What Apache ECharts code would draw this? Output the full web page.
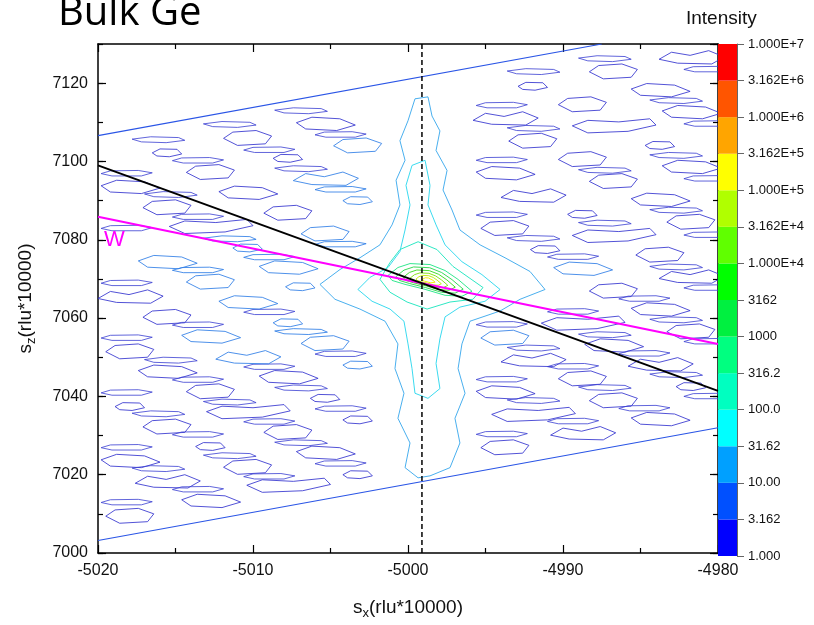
<!DOCTYPE html>
<html>
<head>
<meta charset="utf-8">
<script src="https://cdn.jsdelivr.net/npm/echarts@6/dist/echarts.min.js"></script>
<style>
  html, body { margin: 0; padding: 0; background: #ffffff; }
  #chart { width: 814px; height: 625px; }
</style>
</head>
<body>
<div id="chart"></div>
<script>
// ---- Reciprocal space map of bulk Ge around the (-5000, 7069) reflection ----
// Axis ranges (rlu*10000)
const sxRange = [-5020, -4980];
const szRange = [7000, 7130];

// Colour scale of the contour levels (bottom -> top) and their tick labels
const levelLabels = ['1.000', '3.162', '10.00', '31.62', '100.0', '316.2', '1000', '3162',
  '1.000E+4', '3.162E+4', '1.000E+5', '3.162E+5', '1.000E+6', '3.162E+6', '1.000E+7'];
const levelColors = ['#0000ff', '#0050ff', '#00a0ff', '#00ffff', '#00ffc0', '#00ff80', '#00f040',
  '#00ff00', '#60ff00', '#b0ff00', '#ffff00', '#ffa500', '#ff5500', '#ff0000'];

// Edges of the measured area (parallelogram)
const scanEdges = [
  [-5020, 7106.6, -4987.5, 7130.0],
  [-5020, 7003.2, -4980.0, 7032.0]
];

// Reference lines
const blackLine = [[-5020, 7099.0], [-4980, 7041.4]];
const wLine = [[-5020, 7085.9], [-4980, 7053.4]];
const specularSx = -4999.1;

// Background noise contours, level 1 (flat x,z lists, closed rings)
const noiseContours = [
  [-5019.5,7009.4, -5018.9,7011.0, -5017.4,7011.4, -5016.4,7010.0, -5016.8,7008.0, -5018.6,7007.6],
  [-5014.6,7013.6, -5013.6,7015.0, -5011.8,7014.6, -5010.8,7013.0, -5012.0,7011.6, -5014.0,7012.0],
  [-5010.4,7017.3, -5009.4,7018.7, -5007.4,7018.3, -5005.4,7019.1, -5005.0,7017.5, -5006.8,7015.9, -5009.4,7015.5],
  [-5004.2,7020.0, -5003.7,7021.0, -5002.6,7020.9, -5002.3,7019.7, -5003.1,7019.0, -5003.9,7019.2],
  [-4995.3,7026.9, -4994.7,7028.5, -4993.2,7028.9, -4992.2,7027.5, -4992.6,7025.5, -4994.4,7025.1],
  [-4990.8,7030.1, -4990.0,7031.9, -4988.8,7031.1, -4987.6,7032.3, -4986.6,7030.7, -4987.4,7028.9, -4989.6,7029.1],
  [-4985.6,7034.5, -4984.6,7035.9, -4982.8,7035.5, -4981.8,7033.9, -4983.0,7032.5, -4985.0,7032.9],
  [-5017.6,7017.8, -5016.8,7019.6, -5015.6,7018.8, -5014.4,7020.0, -5013.4,7018.4, -5014.2,7016.6, -5016.4,7016.8],
  [-5011.9,7021.9, -5011.3,7023.5, -5009.8,7023.9, -5008.8,7022.5, -5009.2,7020.5, -5011.0,7020.1],
  [-5007.2,7025.9, -5006.2,7027.3, -5004.4,7026.9, -5003.4,7025.3, -5004.6,7023.9, -5006.6,7024.3],
  [-4994.6,7035.4, -4993.6,7036.8, -4991.6,7036.4, -4989.6,7037.2, -4989.2,7035.6, -4991.0,7034.0, -4993.6,7033.6],
  [-4988.3,7038.9, -4987.7,7040.5, -4986.2,7040.9, -4985.2,7039.5, -4985.6,7037.5, -4987.4,7037.1],
  [-4982.7,7042.5, -4982.2,7043.5, -4981.1,7043.4, -4980.8,7042.2, -4981.6,7041.5, -4982.4,7041.7],
  [-5019.8,7023.8, -5018.8,7025.2, -5017.0,7024.8, -5016.0,7023.2, -5017.2,7021.8, -5019.2,7022.2],
  [-5013.7,7027.2, -5013.2,7028.2, -5012.1,7028.1, -5011.8,7026.9, -5012.6,7026.2, -5013.4,7026.4],
  [-5009.3,7030.8, -5008.7,7032.4, -5007.2,7032.8, -5006.2,7031.4, -5006.6,7029.4, -5008.4,7029.0],
  [-5004.2,7034.0, -5003.7,7035.0, -5002.6,7034.9, -5002.3,7033.7, -5003.1,7033.0, -5003.9,7033.2],
  [-4995.6,7041.3, -4994.6,7042.7, -4992.8,7042.3, -4991.8,7040.7, -4993.0,7039.3, -4995.0,7039.7],
  [-4990.3,7044.5, -4989.7,7046.1, -4988.2,7046.5, -4987.2,7045.1, -4987.6,7043.1, -4989.4,7042.7],
  [-4985.8,7047.7, -4985.0,7049.5, -4983.8,7048.7, -4982.6,7049.9, -4981.6,7048.3, -4982.4,7046.5, -4984.6,7046.7],
  [-5017.1,7032.2, -5016.5,7033.8, -5015.0,7034.2, -5014.0,7032.8, -5014.4,7030.8, -5016.2,7030.4],
  [-5013.0,7036.1, -5012.0,7037.5, -5010.0,7037.1, -5008.0,7037.9, -5007.6,7036.3, -5009.4,7034.7, -5012.0,7034.3],
  [-5006.3,7039.5, -5005.8,7040.5, -5004.7,7040.4, -5004.4,7039.2, -5005.2,7038.5, -5006.0,7038.7],
  [-4994.0,7048.8, -4993.2,7050.6, -4992.0,7049.8, -4990.8,7051.0, -4989.8,7049.4, -4990.6,7047.6, -4992.8,7047.8],
  [-4988.6,7053.3, -4987.6,7054.7, -4985.8,7054.3, -4984.8,7052.7, -4986.0,7051.3, -4988.0,7051.7],
  [-4983.3,7056.5, -4982.7,7058.1, -4981.2,7058.5, -4980.2,7057.1, -4980.6,7055.1, -4982.4,7054.7],
  [-5018.9,7037.4, -5018.4,7038.4, -5017.3,7038.3, -5017.0,7037.1, -5017.8,7036.4, -5018.6,7036.6],
  [-5014.3,7041.2, -5013.7,7042.8, -5012.2,7043.2, -5011.2,7041.8, -5011.6,7039.8, -5013.4,7039.4],
  [-5009.6,7045.2, -5008.6,7046.6, -5006.8,7046.2, -5005.8,7044.6, -5007.0,7043.2, -5009.0,7043.6],
  [-4991.4,7058.7, -4990.4,7060.1, -4988.4,7059.7, -4986.4,7060.5, -4986.0,7058.9, -4987.8,7057.3, -4990.4,7056.9],
  [-4985.6,7062.5, -4984.6,7063.9, -4982.8,7063.5, -4981.8,7061.9, -4983.0,7060.5, -4985.0,7060.9],
  [-5017.4,7046.6, -5016.4,7048.0, -5014.6,7047.6, -5013.6,7046.0, -5014.8,7044.6, -5016.8,7045.0],
  [-4988.3,7066.9, -4987.7,7068.5, -4986.2,7068.9, -4985.2,7067.5, -4985.6,7065.5, -4987.4,7065.1],
  [-4983.8,7070.1, -4983.0,7071.9, -4981.8,7071.1, -4980.6,7072.3, -4979.6,7070.7, -4980.4,7068.9, -4982.6,7069.1],
  [-5019.5,7051.4, -5018.9,7053.0, -5017.4,7053.4, -5016.4,7052.0, -5016.8,7050.0, -5018.6,7049.6],
  [-4985.3,7076.1, -4984.7,7077.7, -4983.2,7078.1, -4982.2,7076.7, -4982.6,7074.7, -4984.4,7074.3],
  [-5017.1,7060.2, -5016.5,7061.8, -5015.0,7062.2, -5014.0,7060.8, -5014.4,7058.8, -5016.2,7058.4],
  [-4992.1,7077.5, -4991.6,7078.5, -4990.5,7078.4, -4990.2,7077.2, -4991.0,7076.5, -4991.8,7076.7],
  [-4989.4,7081.1, -4988.4,7082.5, -4986.4,7082.1, -4984.4,7082.9, -4984.0,7081.3, -4985.8,7079.7, -4988.4,7079.3],
  [-4983.3,7084.5, -4982.7,7086.1, -4981.2,7086.5, -4980.2,7085.1, -4980.6,7083.1, -4982.4,7082.7],
  [-5020.0,7065.0, -5019.2,7066.8, -5018.0,7066.0, -5016.8,7067.2, -5015.8,7065.6, -5016.6,7063.8, -5018.8,7064.0],
  [-4995.3,7082.9, -4994.7,7084.5, -4993.2,7084.9, -4992.2,7083.5, -4992.6,7081.5, -4994.4,7081.1],
  [-4989.7,7086.5, -4989.2,7087.5, -4988.1,7087.4, -4987.8,7086.2, -4988.6,7085.5, -4989.4,7085.7],
  [-4985.6,7090.5, -4984.6,7091.9, -4982.8,7091.5, -4981.8,7089.9, -4983.0,7088.5, -4985.0,7088.9],
  [-4994.0,7090.8, -4993.2,7092.6, -4992.0,7091.8, -4990.8,7093.0, -4989.8,7091.4, -4990.6,7089.6, -4992.8,7089.8],
  [-4988.3,7094.9, -4987.7,7096.5, -4986.2,7096.9, -4985.2,7095.5, -4985.6,7093.5, -4987.4,7093.1],
  [-4983.6,7098.9, -4982.6,7100.3, -4980.8,7099.9, -4979.8,7098.3, -4981.0,7096.9, -4983.0,7097.3],
  [-5015.4,7083.4, -5014.4,7084.8, -5012.4,7084.4, -5010.4,7085.2, -5010.0,7083.6, -5011.8,7082.0, -5014.4,7081.6],
  [-5009.3,7086.8, -5008.7,7088.4, -5007.2,7088.8, -5006.2,7087.4, -5006.6,7085.4, -5008.4,7085.0],
  [-4995.6,7097.3, -4994.6,7098.7, -4992.8,7098.3, -4991.8,7096.7, -4993.0,7095.3, -4995.0,7095.7],
  [-4990.3,7100.5, -4989.7,7102.1, -4988.2,7102.5, -4987.2,7101.1, -4987.6,7099.1, -4989.4,7098.7],
  [-4984.7,7104.1, -4984.2,7105.1, -4983.1,7105.0, -4982.8,7103.8, -4983.6,7103.1, -4984.4,7103.3],
  [-5017.1,7088.2, -5016.5,7089.8, -5015.0,7090.2, -5014.0,7088.8, -5014.4,7086.8, -5016.2,7086.4],
  [-5012.2,7092.3, -5011.2,7093.7, -5009.4,7093.3, -5008.4,7091.7, -5009.6,7090.3, -5011.6,7090.7],
  [-4993.5,7105.2, -4992.9,7106.8, -4991.4,7107.2, -4990.4,7105.8, -4990.8,7103.8, -4992.6,7103.4],
  [-4989.4,7109.1, -4988.4,7110.5, -4986.4,7110.1, -4984.4,7110.9, -4984.0,7109.3, -4985.8,7107.7, -4988.4,7107.3],
  [-4983.6,7112.9, -4982.6,7114.3, -4980.8,7113.9, -4979.8,7112.3, -4981.0,7110.9, -4983.0,7111.3],
  [-5019.8,7093.8, -5018.8,7095.2, -5017.0,7094.8, -5016.0,7093.2, -5017.2,7091.8, -5019.2,7092.2],
  [-5014.3,7097.2, -5013.7,7098.8, -5012.2,7099.2, -5011.2,7097.8, -5011.6,7095.8, -5013.4,7095.4],
  [-5008.7,7100.8, -5008.2,7101.8, -5007.1,7101.7, -5006.8,7100.5, -5007.6,7099.8, -5008.4,7100.0],
  [-4995.8,7110.5, -4995.0,7112.3, -4993.8,7111.5, -4992.6,7112.7, -4991.6,7111.1, -4992.4,7109.3, -4994.6,7109.5],
  [-4990.3,7114.5, -4989.7,7116.1, -4988.2,7116.5, -4987.2,7115.1, -4987.6,7113.1, -4989.4,7112.7],
  [-4985.6,7118.5, -4984.6,7119.9, -4982.8,7119.5, -4981.8,7117.9, -4983.0,7116.5, -4985.0,7116.9],
  [-5016.5,7102.2, -5016.0,7103.2, -5014.9,7103.1, -5014.6,7101.9, -5015.4,7101.2, -5016.2,7101.4],
  [-5011.9,7105.9, -5011.3,7107.5, -5009.8,7107.9, -5008.8,7106.5, -5009.2,7104.5, -5011.0,7104.1],
  [-5007.2,7109.9, -5006.2,7111.3, -5004.4,7110.9, -5003.4,7109.3, -5004.6,7107.9, -5006.6,7108.3],
  [-4992.9,7119.2, -4992.4,7120.2, -4991.3,7120.1, -4991.0,7118.9, -4991.8,7118.2, -4992.6,7118.4],
  [-4988.3,7122.9, -4987.7,7124.5, -4986.2,7124.9, -4985.2,7123.5, -4985.6,7121.5, -4987.4,7121.1],
  [-4983.8,7126.1, -4983.0,7127.9, -4981.8,7127.1, -4980.6,7128.3, -4979.6,7126.7, -4980.4,7124.9, -4982.6,7125.1]
];

// Thin level-1 islands lying between the rows above
const thinContours = [
  [-5019.8,7012.9, -5019.2,7013.6, -5017.4,7013.7, -5016.5,7013.1, -5017.2,7012.3, -5019.1,7012.3],
  [-5015.2,7016.2, -5014.6,7016.9, -5012.8,7017.0, -5011.9,7016.4, -5012.6,7015.6, -5014.5,7015.6],
  [-5010.6,7019.5, -5010.0,7020.2, -5008.2,7020.3, -5007.3,7019.7, -5008.0,7018.9, -5009.9,7018.9],
  [-5006.0,7022.8, -5005.4,7023.5, -5003.6,7023.6, -5002.7,7023.0, -5003.4,7022.2, -5005.3,7022.2],
  [-4995.6,7030.3, -4995.0,7031.0, -4993.2,7031.1, -4992.3,7030.5, -4993.0,7029.7, -4994.9,7029.7],
  [-4991.0,7033.6, -4990.4,7034.3, -4988.6,7034.4, -4987.7,7033.8, -4988.4,7033.0, -4990.3,7033.0],
  [-4986.4,7036.9, -4985.8,7037.6, -4984.0,7037.7, -4983.1,7037.1, -4983.8,7036.3, -4985.7,7036.3],
  [-4982.2,7040.0, -4981.6,7040.7, -4979.8,7040.8, -4978.9,7040.2, -4979.6,7039.4, -4981.5,7039.4],
  [-5017.8,7021.7, -5016.6,7022.3, -5014.8,7022.1, -5014.4,7021.4, -5015.6,7020.8, -5017.2,7021.0],
  [-5013.2,7025.0, -5012.0,7025.6, -5010.2,7025.4, -5009.8,7024.7, -5011.0,7024.1, -5012.6,7024.3],
  [-5008.6,7028.3, -5007.4,7028.9, -5005.6,7028.7, -5005.2,7028.0, -5006.4,7027.4, -5008.0,7027.6],
  [-4993.6,7039.1, -4992.4,7039.7, -4990.6,7039.5, -4990.2,7038.8, -4991.4,7038.2, -4993.0,7038.4],
  [-4989.0,7042.4, -4987.8,7043.0, -4986.0,7042.8, -4985.6,7042.1, -4986.8,7041.5, -4988.4,7041.7],
  [-4984.4,7045.7, -4983.2,7046.3, -4981.4,7046.1, -4981.0,7045.4, -4982.2,7044.8, -4983.8,7045.0],
  [-5019.8,7026.9, -5019.2,7027.6, -5017.4,7027.7, -5016.5,7027.1, -5017.2,7026.3, -5019.1,7026.3],
  [-5015.2,7030.2, -5014.6,7030.9, -5012.8,7031.0, -5011.9,7030.4, -5012.6,7029.6, -5014.5,7029.6],
  [-5010.6,7033.5, -5010.0,7034.2, -5008.2,7034.3, -5007.3,7033.7, -5008.0,7032.9, -5009.9,7032.9],
  [-5006.0,7036.8, -5005.4,7037.5, -5003.6,7037.6, -5002.7,7037.0, -5003.4,7036.2, -5005.3,7036.2],
  [-4995.6,7044.3, -4995.0,7045.0, -4993.2,7045.1, -4992.3,7044.5, -4993.0,7043.7, -4994.9,7043.7],
  [-4991.0,7047.6, -4990.4,7048.3, -4988.6,7048.4, -4987.7,7047.8, -4988.4,7047.0, -4990.3,7047.0],
  [-4986.4,7050.9, -4985.8,7051.6, -4984.0,7051.7, -4983.1,7051.1, -4983.8,7050.3, -4985.7,7050.3],
  [-4982.2,7054.0, -4981.6,7054.7, -4979.8,7054.8, -4978.9,7054.2, -4979.6,7053.4, -4981.5,7053.4],
  [-5017.8,7035.7, -5016.6,7036.3, -5014.8,7036.1, -5014.4,7035.4, -5015.6,7034.8, -5017.2,7035.0],
  [-5013.2,7038.7, -5012.0,7039.3, -5010.2,7039.1, -5009.8,7038.4, -5011.0,7037.8, -5012.6,7038.0],
  [-5008.6,7042.3, -5007.4,7042.9, -5005.6,7042.7, -5005.2,7042.0, -5006.4,7041.4, -5008.0,7041.6],
  [-4993.6,7052.5, -4992.4,7053.1, -4990.6,7052.9, -4990.2,7052.2, -4991.4,7051.6, -4993.0,7051.8],
  [-4989.0,7055.9, -4987.8,7056.5, -4986.0,7056.3, -4985.6,7055.6, -4986.8,7055.0, -4988.4,7055.2],
  [-4984.4,7059.7, -4983.2,7060.3, -4981.4,7060.1, -4981.0,7059.4, -4982.2,7058.8, -4983.8,7059.0],
  [-5019.8,7040.9, -5019.2,7041.6, -5017.4,7041.7, -5016.5,7041.1, -5017.2,7040.3, -5019.1,7040.3],
  [-5015.2,7044.2, -5014.6,7044.9, -5012.8,7045.0, -5011.9,7044.4, -5012.6,7043.6, -5014.5,7043.6],
  [-5010.6,7047.5, -5010.0,7048.2, -5008.2,7048.3, -5007.3,7047.7, -5008.0,7046.9, -5009.9,7046.9],
  [-5006.0,7050.8, -5005.4,7051.5, -5003.6,7051.6, -5002.7,7051.0, -5003.4,7050.2, -5005.3,7050.2],
  [-4995.6,7058.3, -4995.0,7059.0, -4993.2,7059.1, -4992.3,7058.5, -4993.0,7057.7, -4994.9,7057.7],
  [-4991.0,7061.6, -4990.4,7062.3, -4988.6,7062.4, -4987.7,7061.8, -4988.4,7061.0, -4990.3,7061.0],
  [-4986.4,7064.9, -4985.8,7065.6, -4984.0,7065.7, -4983.1,7065.1, -4983.8,7064.3, -4985.7,7064.3],
  [-4982.2,7067.7, -4981.6,7068.4, -4979.8,7068.5, -4978.9,7067.9, -4979.6,7067.1, -4981.5,7067.1],
  [-5017.0,7049.4, -5015.8,7050.0, -5014.0,7049.8, -5013.6,7049.1, -5014.8,7048.5, -5016.4,7048.7],
  [-4984.4,7073.2, -4983.2,7073.8, -4981.4,7073.6, -4981.0,7072.9, -4982.2,7072.3, -4983.8,7072.5],
  [-5019.8,7054.9, -5019.2,7055.6, -5017.4,7055.7, -5016.5,7055.1, -5017.2,7054.3, -5019.1,7054.3],
  [-5015.2,7058.2, -5014.6,7058.9, -5012.8,7059.0, -5011.9,7058.4, -5012.6,7057.6, -5014.5,7057.6],
  [-5010.6,7061.5, -5010.0,7062.2, -5008.2,7062.3, -5007.3,7061.7, -5008.0,7060.9, -5009.9,7060.9],
  [-4991.0,7075.6, -4990.4,7076.3, -4988.6,7076.4, -4987.7,7075.8, -4988.4,7075.0, -4990.3,7075.0],
  [-4982.2,7081.2, -4981.6,7081.9, -4979.8,7082.0, -4978.9,7081.4, -4979.6,7080.6, -4981.5,7080.6],
  [-4993.6,7080.5, -4992.4,7081.1, -4990.6,7080.9, -4990.2,7080.2, -4991.4,7079.6, -4993.0,7079.8],
  [-4989.0,7084.4, -4987.8,7085.0, -4986.0,7084.8, -4985.6,7084.1, -4986.8,7083.5, -4988.4,7083.7],
  [-4984.4,7087.7, -4983.2,7088.3, -4981.4,7088.1, -4981.0,7087.4, -4982.2,7086.8, -4983.8,7087.0],
  [-5019.8,7068.9, -5019.2,7069.6, -5017.4,7069.7, -5016.5,7069.1, -5017.2,7068.3, -5019.1,7068.3],
  [-4995.6,7086.3, -4995.0,7087.0, -4993.2,7087.1, -4992.3,7086.5, -4993.0,7085.7, -4994.9,7085.7],
  [-4982.2,7095.6, -4981.6,7096.3, -4979.8,7096.4, -4978.9,7095.8, -4979.6,7095.0, -4981.5,7095.0],
  [-4989.0,7097.9, -4987.8,7098.5, -4986.0,7098.3, -4985.6,7097.6, -4986.8,7097.0, -4988.4,7097.2],
  [-4984.4,7101.7, -4983.2,7102.3, -4981.4,7102.1, -4981.0,7101.4, -4982.2,7100.8, -4983.8,7101.0],
  [-5019.8,7082.9, -5019.2,7083.6, -5017.4,7083.7, -5016.5,7083.1, -5017.2,7082.3, -5019.1,7082.3],
  [-5015.2,7085.8, -5014.6,7086.5, -5012.8,7086.6, -5011.9,7086.0, -5012.6,7085.2, -5014.5,7085.2],
  [-4995.6,7100.3, -4995.0,7101.0, -4993.2,7101.1, -4992.3,7100.5, -4993.0,7099.7, -4994.9,7099.7],
  [-4982.2,7109.6, -4981.6,7110.3, -4979.8,7110.4, -4978.9,7109.8, -4979.6,7109.0, -4981.5,7109.0],
  [-5017.0,7091.7, -5015.8,7092.3, -5014.0,7092.1, -5013.6,7091.4, -5014.8,7090.8, -5016.4,7091.0],
  [-5008.6,7098.3, -5007.4,7098.9, -5005.6,7098.7, -5005.2,7098.0, -5006.4,7097.4, -5008.0,7097.6],
  [-4993.6,7108.6, -4992.4,7109.2, -4990.6,7109.0, -4990.2,7108.3, -4991.4,7107.7, -4993.0,7107.9],
  [-4984.4,7115.7, -4983.2,7116.3, -4981.4,7116.1, -4981.0,7115.4, -4982.2,7114.8, -4983.8,7115.0],
  [-5019.8,7096.9, -5019.2,7097.6, -5017.4,7097.7, -5016.5,7097.1, -5017.2,7096.3, -5019.1,7096.3],
  [-5015.2,7100.2, -5014.6,7100.9, -5012.8,7101.0, -5011.9,7100.4, -5012.6,7099.6, -5014.5,7099.6],
  [-5010.6,7102.9, -5010.0,7103.6, -5008.2,7103.7, -5007.3,7103.1, -5008.0,7102.3, -5009.9,7102.3],
  [-5006.0,7106.8, -5005.4,7107.5, -5003.6,7107.6, -5002.7,7107.0, -5003.4,7106.2, -5005.3,7106.2],
  [-4995.6,7114.3, -4995.0,7115.0, -4993.2,7115.1, -4992.3,7114.5, -4993.0,7113.7, -4994.9,7113.7],
  [-4982.2,7123.5, -4981.6,7124.2, -4979.8,7124.3, -4978.9,7123.7, -4979.6,7122.9, -4981.5,7122.9],
  [-5017.8,7105.7, -5016.6,7106.3, -5014.8,7106.1, -5014.4,7105.4, -5015.6,7104.8, -5017.2,7105.0],
  [-5013.2,7109.6, -5012.0,7110.2, -5010.2,7110.0, -5009.8,7109.3, -5011.0,7108.7, -5012.6,7108.9],
  [-5008.6,7113.1, -5007.4,7113.7, -5005.6,7113.5, -5005.2,7112.8, -5006.4,7112.2, -5008.0,7112.4],
  [-4993.6,7123.1, -4992.4,7123.7, -4990.6,7123.5, -4990.2,7122.8, -4991.4,7122.2, -4993.0,7122.4],
  [-4989.0,7126.4, -4987.8,7127.0, -4986.0,7126.8, -4985.6,7126.1, -4986.8,7125.5, -4988.4,7125.7]
];

// Noise contours, level 3.162
const weakContours = [
  [-5004.2,7048.0, -5003.7,7049.0, -5002.6,7048.9, -5002.3,7047.7, -5003.1,7047.0, -5003.9,7047.2],
  [-4995.3,7054.9, -4994.7,7056.5, -4993.2,7056.9, -4992.2,7055.5, -4992.6,7053.5, -4994.4,7053.1],
  [-5012.4,7049.5, -5011.6,7051.3, -5010.4,7050.5, -5009.2,7051.7, -5008.2,7050.1, -5009.0,7048.3, -5011.2,7048.5],
  [-5006.9,7053.5, -5006.3,7055.1, -5004.8,7055.5, -5003.8,7054.1, -5004.2,7052.1, -5006.0,7051.7],
  [-5014.6,7055.6, -5013.6,7057.0, -5011.8,7056.6, -5010.8,7055.0, -5012.0,7053.6, -5014.0,7054.0],
  [-5008.7,7058.8, -5008.2,7059.8, -5007.1,7059.7, -5006.8,7058.5, -5007.6,7057.8, -5008.4,7058.0],
  [-5008.6,7056.7, -5007.4,7057.3, -5005.6,7057.1, -5005.2,7056.4, -5006.4,7055.8, -5008.0,7056.0],
  [-4990.6,7072.9, -4989.6,7074.3, -4987.8,7073.9, -4986.8,7072.3, -4988.0,7070.9, -4990.0,7071.3],
  [-5012.2,7064.3, -5011.2,7065.7, -5009.4,7065.3, -5008.4,7063.7, -5009.6,7062.3, -5011.6,7062.7],
  [-5007.9,7068.0, -5007.4,7069.0, -5006.3,7068.9, -5006.0,7067.7, -5006.8,7067.0, -5007.6,7067.2],
  [-5014.3,7069.2, -5013.7,7070.8, -5012.2,7071.2, -5011.2,7069.8, -5011.6,7067.8, -5013.4,7067.4],
  [-5009.6,7073.2, -5008.6,7074.6, -5006.8,7074.2, -5005.8,7072.6, -5007.0,7071.2, -5009.0,7071.6],
  [-5015.2,7072.2, -5014.6,7072.9, -5012.8,7073.0, -5011.9,7072.4, -5012.6,7071.6, -5014.5,7071.6],
  [-5010.6,7075.5, -5010.0,7076.2, -5008.2,7076.3, -5007.3,7075.7, -5008.0,7074.9, -5009.9,7074.9],
  [-5006.0,7078.8, -5005.4,7079.5, -5003.6,7079.6, -5002.7,7079.0, -5003.4,7078.2, -5005.3,7078.2],
  [-5017.4,7074.6, -5016.4,7076.0, -5014.6,7075.6, -5013.6,7074.0, -5014.8,7072.6, -5016.8,7073.0],
  [-5011.3,7077.9, -5010.8,7078.9, -5009.7,7078.8, -5009.4,7077.6, -5010.2,7076.9, -5011.0,7077.1],
  [-5013.2,7080.4, -5012.0,7081.0, -5010.2,7080.8, -5009.8,7080.1, -5011.0,7079.5, -5012.6,7079.7],
  [-5006.9,7081.5, -5006.3,7083.1, -5004.8,7083.5, -5003.8,7082.1, -5004.2,7080.1, -5006.0,7079.7],
  [-5004.2,7090.0, -5003.7,7091.0, -5002.6,7090.9, -5002.3,7089.7, -5003.1,7089.0, -5003.9,7089.2],
  [-5006.0,7092.8, -5005.4,7093.5, -5003.6,7093.6, -5002.7,7093.0, -5003.4,7092.2, -5005.3,7092.2],
  [-5007.4,7095.1, -5006.6,7096.9, -5005.4,7096.1, -5004.2,7097.3, -5003.2,7095.7, -5004.0,7093.9, -5006.2,7094.1],
  [-5004.8,7104.0, -5004.2,7105.6, -5002.7,7106.0, -5001.7,7104.6, -5002.1,7102.6, -5003.9,7102.2]
];

// Diffuse streak around the reflection, level 10
const streak10 = [
  -4999.55,7116.0, -4998.71,7116.5, -4998.45,7111.6, -4997.94,7107.8, -4998.19,7102.8, -4997.48,7097.7,
  -4997.74,7092.7, -4997.16,7087.6, -4996.65,7082.5, -4995.35,7078.7, -4993.74,7075.4, -4992.13,7071.9,
  -4991.16,7067.3, -4992.77,7064.8, -4994.06,7061.8, -4996.00,7059.2, -4996.52,7053.4, -4996.77,7047.1,
  -4996.32,7040.8, -4996.97,7034.4, -4996.65,7028.1, -4997.29,7021.8, -4998.58,7019.7, -4999.35,7019.2,
  -5000.19,7021.8, -4999.87,7028.1, -5000.65,7034.4, -5000.26,7040.8, -5000.84,7047.1, -5000.65,7053.4,
  -5001.48,7059.2, -5003.10,7062.3, -5004.71,7064.8, -5005.68,7068.6, -5004.39,7072.4, -5003.10,7075.4,
  -5001.81,7078.7, -5001.03,7083.8, -5000.52,7088.9, -5000.77,7095.2, -5000.19,7100.3, -5000.52,7105.3,
  -5000.00,7110.4
];

// Level 31.62
const streak31 = [
  -4999.74,7099.0, -4998.90,7100.3, -4998.58,7093.9, -4998.71,7088.9, -4998.19,7083.8, -4997.61,7078.7,
  -4996.52,7074.4, -4995.23,7071.1, -4994.06,7067.3, -4995.03,7064.3, -4996.65,7062.8, -4997.61,7060.3,
  -4997.94,7054.7, -4998.19,7048.4, -4997.94,7042.0, -4998.71,7039.5, -4999.55,7040.8, -4999.74,7047.1,
  -5000.00,7053.4, -5000.26,7059.2, -5001.16,7062.3, -5002.32,7064.3, -5003.23,7067.3, -5002.45,7070.4,
  -5001.29,7072.9, -5000.52,7077.0, -5000.19,7082.5, -4999.87,7088.9, -5000.13,7093.9
];

// Level 100
const peak100 = [
  -5000.52,7077.5, -4999.35,7079.5, -4998.13,7077.5, -4997.10,7073.2, -4995.16,7067.8, -4995.81,7064.8,
  -4997.29,7064.1, -4998.77,7062.3, -5000.06,7064.1, -5001.16,7066.6, -5001.81,7069.9, -5001.16,7074.2
];

// Core of the reflection, levels 316.2 ... 1.000E+5
const peak316 = [-5001.29,7070.89, -5000.65,7072.91, -4999.87,7073.92, -4998.58,7073.67, -4997.61,7072.15, -4996.77,7069.87,
  -4995.87,7066.84, -4996.52,7065.57, -4997.61,7065.82, -4998.90,7067.34, -5000.19,7068.61, -5001.03,7069.62];
const peak1000 = [-5000.77,7070.63, -5000.26,7072.25, -4999.64,7073.06, -4998.60,7072.86, -4997.83,7071.64, -4997.16,7069.82,
  -4996.44,7067.39, -4996.96,7066.38, -4997.83,7066.58, -4998.86,7067.79, -4999.89,7068.81, -5000.56,7069.62];
const peak3162 = [-5000.31,7070.40, -4999.91,7071.65, -4999.43,7072.28, -4998.63,7072.12, -4998.02,7071.18, -4997.50,7069.77,
  -4996.95,7067.89, -4997.35,7067.10, -4998.02,7067.26, -4998.82,7068.20, -4999.62,7068.99, -5000.14,7069.61];
const peak1e4 = [-4999.87,7070.18, -4999.58,7071.09, -4999.23,7071.54, -4998.65,7071.43, -4998.21,7070.75, -4997.83,7069.72,
  -4997.43,7068.36, -4997.72,7067.79, -4998.21,7067.90, -4998.79,7068.58, -4999.37,7069.15, -4999.75,7069.61];
const peak3e4 = [-4999.48,7069.99, -4999.29,7070.59, -4999.05,7070.90, -4998.66,7070.82, -4998.37,7070.37, -4998.12,7069.68,
  -4997.85,7068.77, -4998.05,7068.39, -4998.37,7068.47, -4998.76,7068.92, -4999.15,7069.30, -4999.40,7069.61];
const peak1e5 = [-4999.11,7069.81, -4998.89,7070.29, -4998.68,7070.25, -4998.39,7069.64, -4998.25,7069.16, -4998.53,7069.00,
  -4998.94,7069.44];

// ---- helpers ----
function ring(flat) {
  const pts = [];
  for (let i = 0; i < flat.length; i += 2) pts.push([flat[i], flat[i + 1]]);
  pts.push([flat[0], flat[1]]);
  return pts;
}
function segment(flat) {
  const pts = [];
  for (let i = 0; i < flat.length; i += 2) pts.push([flat[i], flat[i + 1]]);
  return pts;
}
function contourSeries(name, rings, color, width, opacity) {
  return {
    name: name, type: 'lines', coordinateSystem: 'cartesian2d',
    xAxisIndex: 0, yAxisIndex: 0, polyline: true, clip: true, silent: true,
    lineStyle: { color: color, width: width, opacity: opacity },
    data: rings.map(r => ({ coords: r }))
  };
}

const FONT = 'Liberation Sans, Arial, sans-serif';
const tickStyle = { color: '#000', width: 1.2 };
const plain = v => String(v);

const chart = echarts.init(document.getElementById('chart'), null, { renderer: 'canvas' });

const series = [
  contourSeries('edges', scanEdges.map(segment), '#2a55e6', 1.1, 1),
  contourSeries('level1', noiseContours.map(ring), '#3434cf', 1, 0.85),
  contourSeries('level1b', thinContours.map(ring), '#3a3ed2', 1, 0.8),
  contourSeries('level3', weakContours.map(ring), '#2f7ee6', 1, 0.85),
  contourSeries('level10', [ring(streak10)], '#35a6ec', 1, 0.9),
  contourSeries('level31', [ring(streak31)], '#30d8ee', 1, 0.95),
  contourSeries('level100', [ring(peak100)], '#2ee8c4', 1, 1),
  contourSeries('level316', [ring(peak316)], '#34e890', 1, 1),
  contourSeries('level1000', [ring(peak1000)], '#3ada5a', 1, 1),
  contourSeries('level3162', [ring(peak3162)], '#48de30', 1, 1),
  contourSeries('level1e4', [ring(peak1e4)], '#88e420', 1, 1),
  contourSeries('level3e4', [ring(peak3e4)], '#c4ec18', 1, 1),
  contourSeries('level1e5', [ring(peak1e5)], '#f2ee10', 1, 1),
  {
    name: 'W', type: 'line', xAxisIndex: 0, yAxisIndex: 0, data: wLine,
    showSymbol: false, silent: true, lineStyle: { color: '#ff00ff', width: 2 }, z: 5
  },
  {
    name: 'ref', type: 'line', xAxisIndex: 0, yAxisIndex: 0, data: blackLine,
    showSymbol: false, silent: true, lineStyle: { color: '#000000', width: 2 }, z: 6
  },
  {
    name: 'specular', type: 'line', xAxisIndex: 0, yAxisIndex: 0,
    data: [[specularSx, szRange[0]], [specularSx, szRange[1]]],
    showSymbol: false, silent: true,
    lineStyle: { color: '#000000', width: 1.5, type: [5, 3] }, z: 6
  }
];

// Colour bar: one stacked block per level band
levelColors.forEach((c, i) => {
  series.push({
    type: 'bar', xAxisIndex: 2, yAxisIndex: 4, stack: 'bar', data: [1],
    barWidth: '100%', silent: true, itemStyle: { color: c }
  });
});

const option = {
  animation: false,
  backgroundColor: '#ffffff',
  grid: [
    { left: 98, right: 96, top: 44, bottom: 69, containLabel: false },
    { left: 718, width: 19, top: 44, height: 512, containLabel: false }
  ],
  xAxis: [
    {
      type: 'value', gridIndex: 0, position: 'bottom', min: sxRange[0], max: sxRange[1], interval: 10,
      axisLine: { show: true, onZero: false, lineStyle: { color: '#000', width: 1.5 } },
      axisTick: { show: true, inside: true, length: 8, lineStyle: tickStyle },
      minorTick: { show: true, splitNumber: 2, length: 5, lineStyle: tickStyle },
      axisLabel: { fontSize: 16, color: '#111', fontFamily: FONT, margin: 10, formatter: plain },
      splitLine: { show: false },
      name: 's{sub|x}(rlu*10000)', nameLocation: 'middle', nameGap: 42,
      nameTextStyle: {
        fontSize: 19, color: '#111', fontFamily: FONT,
        rich: { sub: { fontSize: 13, fontFamily: FONT, color: '#111', padding: [12, 0, 0, 0] } }
      }
    },
    {
      type: 'value', gridIndex: 0, position: 'top', min: sxRange[0], max: sxRange[1], interval: 10,
      axisLine: { show: true, onZero: false, lineStyle: { color: '#000', width: 1.5 } },
      axisTick: { show: true, inside: true, length: 8, lineStyle: tickStyle },
      minorTick: { show: true, splitNumber: 2, length: 5, lineStyle: tickStyle },
      axisLabel: { show: false }, splitLine: { show: false }
    },
    { type: 'category', gridIndex: 1, data: ['I'], show: false }
  ],
  yAxis: [
    {
      type: 'value', gridIndex: 0, position: 'left', min: szRange[0], max: szRange[1], interval: 20,
      axisLine: { show: true, onZero: false, lineStyle: { color: '#000', width: 1.5 } },
      axisTick: { show: true, inside: true, length: 8, lineStyle: tickStyle },
      axisLabel: { fontSize: 16, color: '#111', fontFamily: FONT, margin: 10, showMaxLabel: false, formatter: plain },
      splitLine: { show: false },
      name: 's{sub|z}(rlu*10000)', nameLocation: 'middle', nameGap: 60, nameRotate: 90,
      nameTextStyle: {
        fontSize: 19, color: '#111', fontFamily: FONT,
        rich: { sub: { fontSize: 13, fontFamily: FONT, color: '#111', padding: [12, 0, 0, 0] } }
      }
    },
    {
      type: 'value', gridIndex: 0, position: 'left', min: szRange[0], max: szRange[1], interval: 10,
      axisLine: { show: false }, axisLabel: { show: false }, splitLine: { show: false },
      axisTick: { show: true, inside: true, length: 5, lineStyle: tickStyle }
    },
    {
      type: 'value', gridIndex: 0, position: 'right', min: szRange[0], max: szRange[1], interval: 20,
      axisLine: { show: true, onZero: false, lineStyle: { color: '#000', width: 1.5 } },
      axisTick: { show: true, inside: true, length: 8, lineStyle: tickStyle },
      axisLabel: { show: false }, splitLine: { show: false }
    },
    {
      type: 'value', gridIndex: 0, position: 'right', min: szRange[0], max: szRange[1], interval: 10,
      axisLine: { show: false }, axisLabel: { show: false }, splitLine: { show: false },
      axisTick: { show: true, inside: true, length: 5, lineStyle: tickStyle }
    },
    {
      type: 'value', gridIndex: 1, position: 'right', min: 0, max: levelColors.length, interval: 1,
      axisLine: { show: true, lineStyle: { color: '#666', width: 1 } },
      axisTick: { show: true, inside: false, length: 7, lineStyle: { color: '#666', width: 1 } },
      axisLabel: { fontSize: 13, color: '#111', fontFamily: FONT, margin: 11, formatter: v => levelLabels[v] },
      splitLine: { show: false }
    }
  ],
  graphic: [
    { type: 'text', left: 58, top: -6, style: { text: 'Bulk Ge', fontSize: 40, fontFamily: 'Open Sans', fill: '#000' } },
    { type: 'text', left: 686, top: 9, style: { text: 'Intensity', fontSize: 19, fontFamily: FONT, fill: '#111' } },
    { type: 'text', left: 104, top: 229, z: 10, style: { text: 'W', fontSize: 22, fontFamily: FONT, fill: '#ff00ff' } }
  ],
  series: series
};

chart.setOption(option);
</script>
</body>
</html>
